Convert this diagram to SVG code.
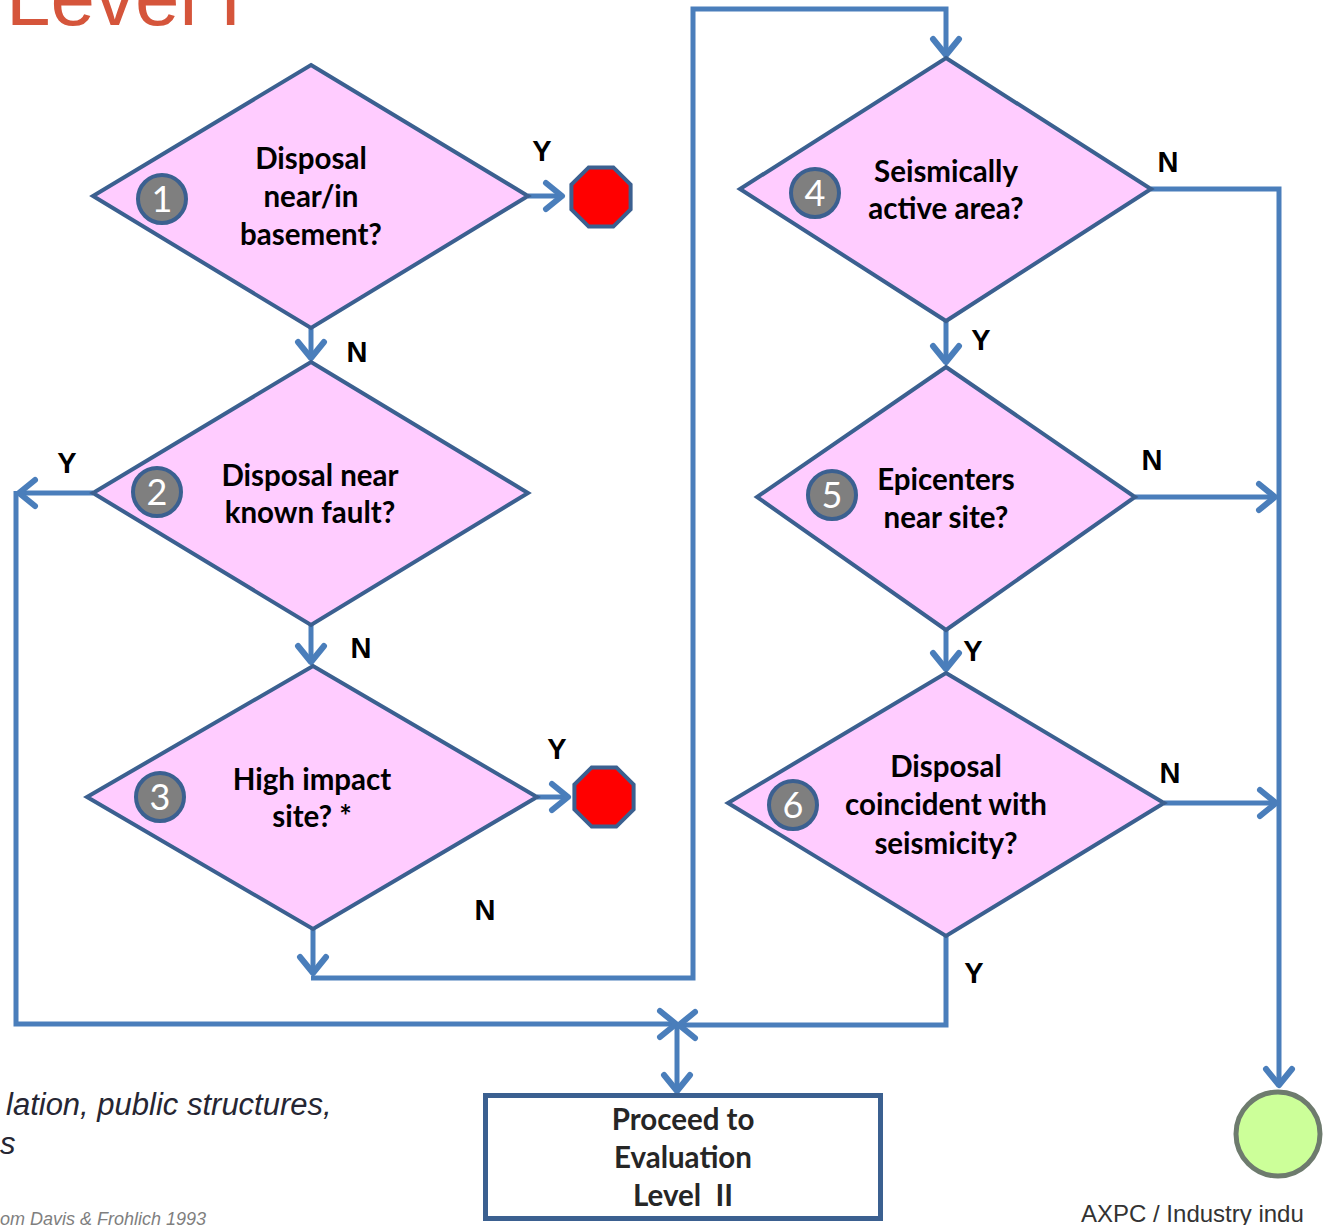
<svg xmlns="http://www.w3.org/2000/svg" width="1327" height="1225" viewBox="0 0 1327 1225">
<style>
.dia{fill:#FFCCFF;stroke:#3B6090;stroke-width:4;stroke-linejoin:miter}
.badge{fill:#7F7F7F;stroke:#3B6090;stroke-width:4}
.num{font-family:Lato,"Liberation Sans",sans-serif;font-size:36px;fill:#FFFFFF;text-anchor:middle}
.txt{font-family:Lato,"Liberation Sans",sans-serif;font-weight:bold;font-size:29.5px;fill:#000;text-anchor:middle}
.btxt{font-family:Lato,"Liberation Sans",sans-serif;font-weight:bold;font-size:29.5px;fill:#262626;text-anchor:middle;white-space:pre}
.lbl{font-family:"Liberation Sans",Arial,sans-serif;font-weight:bold;font-size:29px;fill:#000;text-anchor:middle}
.con{fill:none;stroke:#4A7EBB;stroke-width:5}
.stop{fill:#FF0000;stroke:#3B6090;stroke-width:4}
</style>
<defs>
<marker id="arr" markerUnits="userSpaceOnUse" markerWidth="40" markerHeight="40" viewBox="-20 -20 40 40" refX="0" refY="0" orient="auto" overflow="visible">
<path d="M-16,-13 L0,0 L-16,13" fill="none" stroke="#4A7EBB" stroke-width="6" stroke-linecap="round" stroke-linejoin="round"/>
</marker>
<polygon id="oct" points="12.3,-29.6 29.6,-12.3 29.6,12.3 12.3,29.6 -12.3,29.6 -29.6,12.3 -29.6,-12.3 -12.3,-29.6"/>
</defs>

<text x="6" y="25" font-family="'Liberation Sans',Arial,sans-serif" font-size="80" fill="#D5553B">Level I</text>

<g id="connectors">
<path class="con" d="M528,196 H562" marker-end="url(#arr)"/>
<path class="con" d="M311,328 V358" marker-end="url(#arr)"/>
<path class="con" d="M93,493 H19" marker-end="url(#arr)"/>
<path class="con" d="M16,491 V1024 H676" marker-end="url(#arr)"/>
<path class="con" d="M311,625 V662" marker-end="url(#arr)"/>
<path class="con" d="M537,797 H568" marker-end="url(#arr)"/>
<path class="con" d="M313,929 V973" marker-end="url(#arr)"/>
<path class="con" d="M311,978 H693 V9 H946 V55" marker-end="url(#arr)"/>
<path class="con" d="M1151,189 H1279 V1085" marker-end="url(#arr)"/>
<path class="con" d="M946,321 V362" marker-end="url(#arr)"/>
<path class="con" d="M1135,497 H1275" marker-end="url(#arr)"/>
<path class="con" d="M946,630 V669" marker-end="url(#arr)"/>
<path class="con" d="M1164,803 H1276" marker-end="url(#arr)"/>
<path class="con" d="M946,936 V1025 H679" marker-end="url(#arr)"/>
<path class="con" d="M677,1024 V1091" marker-end="url(#arr)"/>
</g>

<g id="labels">
<text class="lbl" x="542" y="161">Y</text>
<text class="lbl" x="357" y="362">N</text>
<text class="lbl" x="67" y="473">Y</text>
<text class="lbl" x="361" y="658">N</text>
<text class="lbl" x="557" y="759">Y</text>
<text class="lbl" x="485" y="920">N</text>
<text class="lbl" x="1168" y="172">N</text>
<text class="lbl" x="981" y="350">Y</text>
<text class="lbl" x="1152" y="470">N</text>
<text class="lbl" x="973" y="661">Y</text>
<text class="lbl" x="1170" y="783">N</text>
<text class="lbl" x="974" y="983">Y</text>
</g>

<g id="node1">
<polygon class="dia" points="311,65 528,196 311,328 93,196"/>
<circle class="badge" cx="162" cy="199" r="24"/>
<text class="num" x="162" y="212">1</text>
<text class="txt" x="311" y="169">Disposal</text>
<text class="txt" x="311" y="207">near/in</text>
<text class="txt" x="311" y="245">basement?</text>
</g>

<g id="stop1">
<use href="#oct" class="stop" transform="translate(601,197)"/>
</g>

<g id="node2">
<polygon class="dia" points="311,362 528,493 311,625 93,493"/>
<circle class="badge" cx="157" cy="492" r="24"/>
<text class="num" x="157" y="505">2</text>
<text class="txt" x="310" y="486">Disposal near</text>
<text class="txt" x="310" y="523">known fault?</text>
</g>

<g id="node3">
<polygon class="dia" points="313,666 537,797 313,929 87,797"/>
<circle class="badge" cx="160" cy="797" r="24"/>
<text class="num" x="160" y="810">3</text>
<text class="txt" x="312" y="790">High impact</text>
<text class="txt" x="312" y="827">site? *</text>
</g>

<g id="stop2">
<use href="#oct" class="stop" transform="translate(604,797)"/>
</g>

<g id="node4">
<polygon class="dia" points="946,58 1151,189 946,321 740,189"/>
<circle class="badge" cx="815" cy="193" r="24"/>
<text class="num" x="815" y="206">4</text>
<text class="txt" x="946" y="182">Seismically</text>
<text class="txt" x="946" y="219">active area?</text>
</g>

<g id="node5">
<polygon class="dia" points="946,367 1135,497 946,630 757,497"/>
<circle class="badge" cx="832" cy="495" r="24"/>
<text class="num" x="832" y="508">5</text>
<text class="txt" x="946" y="490">Epicenters</text>
<text class="txt" x="946" y="528">near site?</text>
</g>

<g id="node6">
<polygon class="dia" points="946,673 1164,803 946,936 728,803"/>
<circle class="badge" cx="793" cy="805" r="24"/>
<text class="num" x="793" y="818">6</text>
<text class="txt" x="946" y="777">Disposal</text>
<text class="txt" x="946" y="815">coincident with</text>
<text class="txt" x="946" y="854">seismicity?</text>
</g>

<g id="proceed">
<rect x="485.5" y="1095.5" width="395" height="123" fill="#FFFFFF" stroke="#3B6090" stroke-width="5"/>
<text class="btxt" x="683" y="1130">Proceed to</text>
<text class="btxt" x="683" y="1168">Evaluation</text>
<text class="btxt" x="683" y="1206" xml:space="preserve">Level  II</text>
</g>

<g id="end">
<circle cx="1278" cy="1134" r="42" fill="#CCFF99" stroke="#6E7B6E" stroke-width="5"/>
</g>

<g id="notes">
<text x="6" y="1115" font-family="'Liberation Sans',Arial,sans-serif" font-style="italic" font-size="31" fill="#262633">lation, public structures,</text>
<text x="0" y="1154" font-family="'Liberation Sans',Arial,sans-serif" font-style="italic" font-size="31" fill="#262633">s</text>
<text x="0" y="1225" font-family="'Liberation Sans',Arial,sans-serif" font-style="italic" font-size="18" fill="#7F7F7F">om Davis &amp; Frohlich 1993</text>
<text x="1081" y="1222" font-family="'Liberation Sans',Arial,sans-serif" font-size="24" fill="#333333">AXPC / Industry indu</text>
</g>
</svg>
